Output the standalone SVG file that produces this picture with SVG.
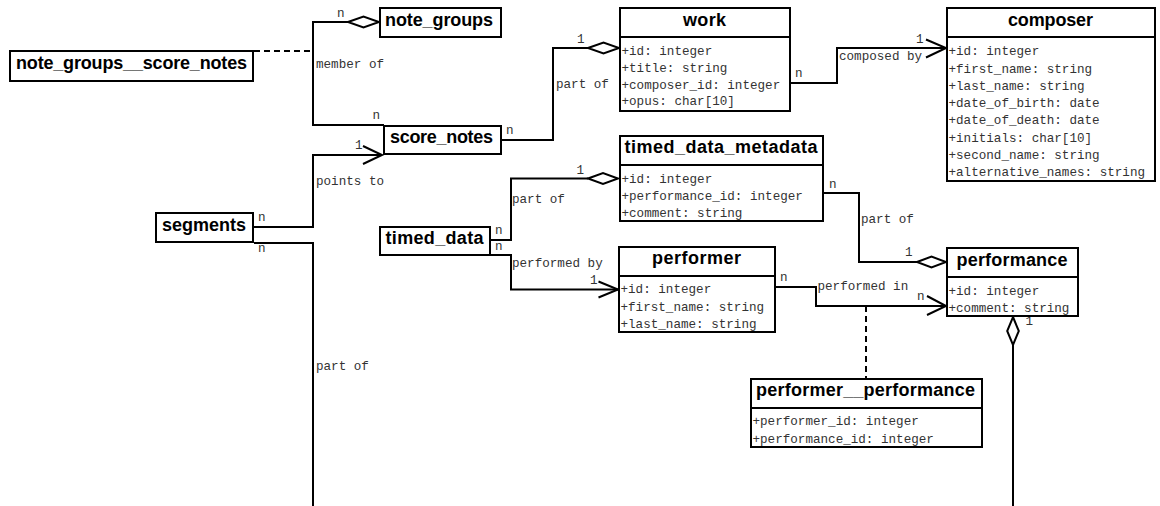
<svg xmlns="http://www.w3.org/2000/svg" width="1160" height="506" viewBox="0 0 1160 506">
  <style>
    .box { fill: #fff; stroke: #000; stroke-width: 2; }
    .div { stroke: #000; stroke-width: 2; }
    .hd { font-family: "Liberation Sans", Arial, sans-serif; font-weight: bold; font-size: 18px; text-anchor: middle; fill: #000; }
    .at { font-family: "Liberation Mono", "Courier New", monospace; font-size: 12.6px; fill: #333; }
    .lb { font-family: "Liberation Mono", "Courier New", monospace; font-size: 12.6px; fill: #333; }
    .ln { fill: none; stroke: #000; stroke-width: 2; }
    .dash { stroke-dasharray: 6 4; }
    .dia { fill: #fff; stroke: #000; stroke-width: 2; }
  </style>

  <!-- connectors -->
  <g id="connectors">
    <!-- association class link: note_groups__score_notes -->
    <path class="ln dash" d="M254,51 H313"/>
    <!-- score_notes member of note_groups -->
    <path class="ln" d="M384,125 H313 V22 H348"/>
    <polygon class="dia" points="348,22 363.5,16.5 379,22 363.5,27.5"/>
    <text class="lb" x="337" y="16.5">n</text>
    <text class="lb" x="316" y="67.5">member of</text>
    <text class="lb" x="372.5" y="119">n</text>

    <!-- score_notes part of work -->
    <path class="ln" d="M502,140 H553 V48 H588"/>
    <polygon class="dia" points="588,48 603.5,42.5 619,48 603.5,53.5"/>
    <text class="lb" x="506" y="134">n</text>
    <text class="lb" x="577" y="43">1</text>
    <text class="lb" x="556" y="88">part of</text>

    <!-- work composed by composer -->
    <path class="ln" d="M791,83 H837 V48 H946"/>
    <polyline class="ln" points="926,39.5 946,48 926,57.5"/>
    <text class="lb" x="916" y="43">1</text>
    <text class="lb" x="795" y="77">n</text>
    <text class="lb" x="839" y="59.5">composed by</text>

    <!-- segments points to score_notes -->
    <path class="ln" d="M254,227 H313 V155 H382"/>
    <polyline class="ln" points="363,146 382,155 363,164"/>
    <text class="lb" x="258" y="221">n</text>
    <text class="lb" x="355" y="149">1</text>
    <text class="lb" x="316" y="184.5">points to</text>

    <!-- segments part of (continues below) -->
    <path class="ln" d="M254,243 H313 V506"/>
    <text class="lb" x="258" y="252">n</text>
    <text class="lb" x="316" y="370">part of</text>

    <!-- timed_data part of timed_data_metadata -->
    <path class="ln" d="M491,240 H511 V178.5 H588"/>
    <polygon class="dia" points="588,178.5 603,173 618,178.5 603,184"/>
    <text class="lb" x="495" y="233.5">n</text>
    <text class="lb" x="576.5" y="173.5">1</text>
    <text class="lb" x="512" y="203">part of</text>

    <!-- timed_data performed by performer -->
    <path class="ln" d="M491,255 H511 V289.5 H618"/>
    <polyline class="ln" points="598.5,281.5 618,289.5 598.5,297.5"/>
    <text class="lb" x="495" y="250">n</text>
    <text class="lb" x="590" y="283.5">1</text>
    <text class="lb" x="512" y="266.5">performed by</text>

    <!-- timed_data_metadata part of performance -->
    <path class="ln" d="M824,193 H859 V262 H917"/>
    <polygon class="dia" points="917,262 931.5,256.5 946,262 931.5,267.5"/>
    <text class="lb" x="829" y="188">n</text>
    <text class="lb" x="905" y="256">1</text>
    <text class="lb" x="861" y="222.5">part of</text>

    <!-- performer performed in performance -->
    <path class="ln" d="M776,287 H816 V306 H946"/>
    <polyline class="ln" points="927,296 946,306 927,315"/>
    <text class="lb" x="780" y="281">n</text>
    <text class="lb" x="917" y="300">n</text>
    <text class="lb" x="817.5" y="290">performed in</text>

    <!-- association class link: performer__performance -->
    <path class="ln dash" d="M866,306 V378"/>

    <!-- performance part of (continues below) -->
    <polygon class="dia" points="1013,317 1018.8,331 1013,345 1007.2,331"/>
    <path class="ln" d="M1013,345 V506"/>
    <text class="lb" x="1025.5" y="325">1</text>
  </g>

  <g id="note_groups__score_notes">
    <rect class="box" x="10" y="51" width="243" height="30"/>
    <text class="hd" x="131.5" y="69" textLength="231">note_groups__score_notes</text>
  </g>

  <g id="note_groups">
    <rect class="box" x="380" y="8" width="121" height="29"/>
    <text class="hd" x="439" y="26" textLength="108">note_groups</text>
  </g>

  <g id="score_notes">
    <rect class="box" x="384" y="126" width="117" height="28"/>
    <text class="hd" x="441.5" y="143" textLength="103">score_notes</text>
  </g>

  <g id="segments">
    <rect class="box" x="156" y="213" width="97" height="29"/>
    <text class="hd" x="204" y="231" textLength="84">segments</text>
  </g>

  <g id="timed_data">
    <rect class="box" x="380" y="227" width="110" height="28"/>
    <text class="hd" x="434.5" y="244" textLength="98">timed_data</text>
  </g>

  <g id="work">
    <rect class="box" x="620" y="8" width="170" height="103"/>
    <line class="div" x1="620" y1="37" x2="790" y2="37"/>
    <text class="hd" x="704.5" y="25.5" textLength="43">work</text>
    <text class="at" x="621.5" y="54.5">+id: integer</text>
    <text class="at" x="621.5" y="71.5">+title: string</text>
    <text class="at" x="621.5" y="88.5">+composer_id: integer</text>
    <text class="at" x="621.5" y="105">+opus: char[10]</text>
  </g>

  <g id="composer">
    <rect class="box" x="947" y="8" width="208" height="173"/>
    <line class="div" x1="947" y1="37" x2="1155" y2="37"/>
    <text class="hd" x="1050.5" y="25.7" textLength="85">composer</text>
    <text class="at" x="948.5" y="54.5">+id: integer</text>
    <text class="at" x="948.5" y="72.5">+first_name: string</text>
    <text class="at" x="948.5" y="89.5">+last_name: string</text>
    <text class="at" x="948.5" y="107">+date_of_birth: date</text>
    <text class="at" x="948.5" y="124">+date_of_death: date</text>
    <text class="at" x="948.5" y="141.5">+initials: char[10]</text>
    <text class="at" x="948.5" y="158.5">+second_name: string</text>
    <text class="at" x="948.5" y="176">+alternative_names: string</text>
  </g>

  <g id="timed_data_metadata">
    <rect class="box" x="620" y="136" width="203" height="85"/>
    <line class="div" x1="620" y1="165" x2="823" y2="165"/>
    <text class="hd" x="721" y="153" textLength="193">timed_data_metadata</text>
    <text class="at" x="621.5" y="182.5">+id: integer</text>
    <text class="at" x="621.5" y="200">+performance_id: integer</text>
    <text class="at" x="621.5" y="217">+comment: string</text>
  </g>

  <g id="performer">
    <rect class="box" x="619" y="247" width="156" height="85"/>
    <line class="div" x1="619" y1="276" x2="775" y2="276"/>
    <text class="hd" x="696.5" y="264" textLength="89">performer</text>
    <text class="at" x="620.5" y="293">+id: integer</text>
    <text class="at" x="620.5" y="310.5">+first_name: string</text>
    <text class="at" x="620.5" y="328">+last_name: string</text>
  </g>

  <g id="performance">
    <rect class="box" x="947" y="248" width="131" height="68"/>
    <line class="div" x1="947" y1="277" x2="1078" y2="277"/>
    <text class="hd" x="1012" y="266" textLength="111">performance</text>
    <text class="at" x="948.5" y="294.5">+id: integer</text>
    <text class="at" x="948.5" y="311.5">+comment: string</text>
  </g>

  <g id="performer__performance">
    <rect class="box" x="751" y="379" width="231" height="68"/>
    <line class="div" x1="751" y1="408" x2="982" y2="408"/>
    <text class="hd" x="865.5" y="396" textLength="219">performer__performance</text>
    <text class="at" x="752.5" y="424.5">+performer_id: integer</text>
    <text class="at" x="752.5" y="442.5">+performance_id: integer</text>
  </g>
</svg>
